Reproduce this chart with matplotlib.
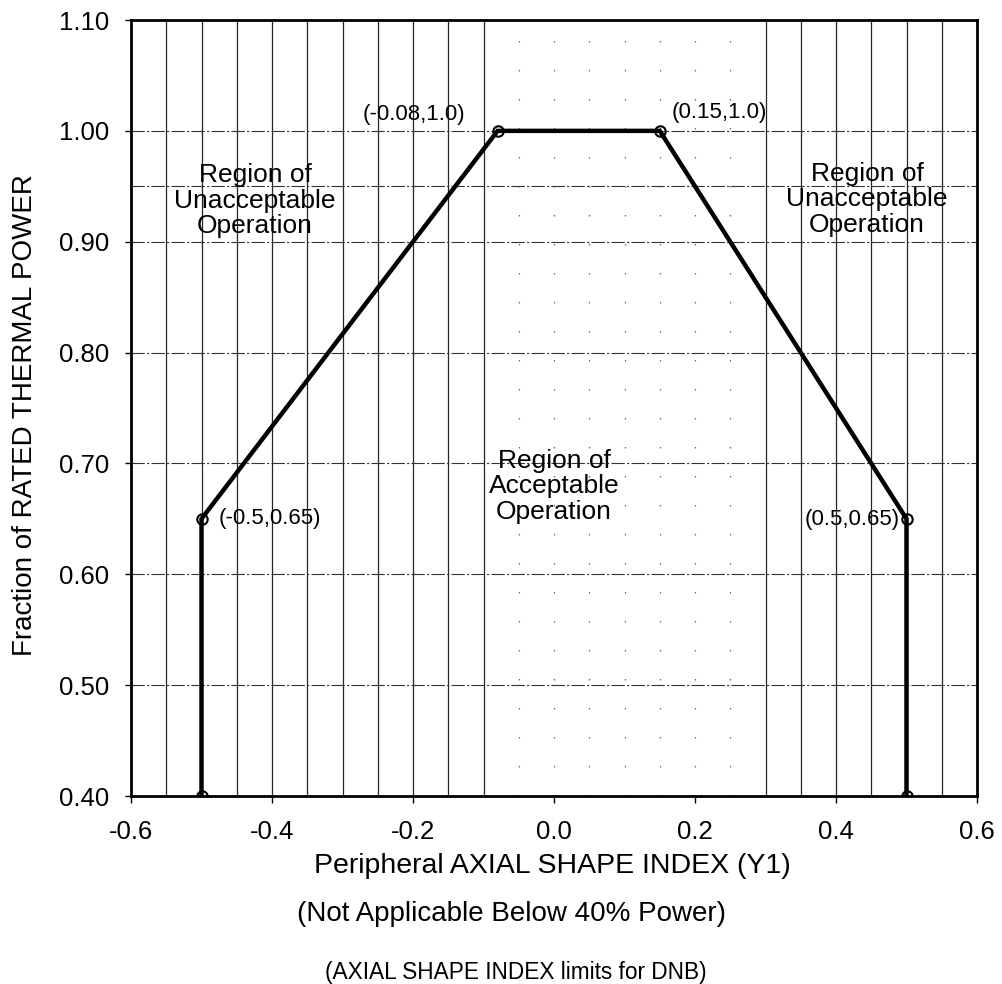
import matplotlib
matplotlib.use("Agg")
import matplotlib.pyplot as plt
import numpy as np

plt.rcParams['font.family'] = ['Liberation Sans', 'DejaVu Sans']

# Data
asi = [-0.5, -0.5, -0.08, 0.15, 0.5, 0.5]
power = [0.40, 0.65, 1.00, 1.00, 0.65, 0.40]
x_ticks = [-0.6, -0.4, -0.2, 0.0, 0.2, 0.4, 0.6]
x_ticklabels = ["-0.6", "-0.4", "-0.2", "0.0", "0.2", "0.4", "0.6"]
y_ticks = [0.40, 0.50, 0.60, 0.70, 0.80, 0.90, 1.00, 1.10]
y_ticklabels = ["0.40", "0.50", "0.60", "0.70", "0.80", "0.90", "1.00", "1.10"]
point_labels = ["(-0.5,0.65)", "(-0.08,1.0)", "(0.15,1.0)", "(0.5,0.65)"]

W, H = 1002, 984
fig = plt.figure(figsize=(W / 100, H / 100), dpi=100)
ax = fig.add_axes([131 / W, (H - 796) / H, 846 / W, 776 / H])
ax.set_xlim(-0.6, 0.6)
ax.set_ylim(0.40, 1.10)

# Gridlines
minor_x = np.round(np.arange(-0.55, 0.56, 0.05), 3)
for xv in minor_x:
    if -0.07 < xv < 0.27:
        ax.axvline(xv, color='0.4', lw=0.9, ls=(0, (1.2, 22)), zorder=1)
    else:
        ax.axvline(xv, color='0.15', lw=0.9, zorder=1)
for yv in [0.5, 0.6, 0.7, 0.8, 0.9, 0.95, 1.0]:
    ax.axhline(yv, color='0.2', lw=0.8, ls=(0, (12, 2, 2, 2)), zorder=1)

# Boundary line
ax.plot(asi, power, color='black', lw=3.2, zorder=3, solid_joinstyle='miter')
ax.plot(asi, power, ls='none', marker='o', ms=7.5, mfc='none', mec='black', mew=1.5, zorder=4)

# Point annotations
fs_ann = 16
ax.text(-0.476, 0.650, point_labels[0], fontsize=fs_ann, ha='left', va='center', zorder=5)
ax.text(-0.199, 1.015, point_labels[1], fontsize=fs_ann, ha='center', va='center', zorder=5)
ax.text(0.235, 1.017, point_labels[2], fontsize=fs_ann, ha='center', va='center', zorder=5)
ax.text(0.491, 0.649, point_labels[3], fontsize=fs_ann, ha='right', va='center', zorder=5)

# Region labels
fs_reg = 19
ax.text(-0.424, 0.937, "Region of\nUnacceptable\nOperation", fontsize=fs_reg, ha='center', va='center',
        linespacing=1.08, zorder=5)
ax.text(0.444, 0.9385, "Region of\nUnacceptable\nOperation", fontsize=fs_reg, ha='center', va='center',
        linespacing=1.08, zorder=5)
ax.text(0.0, 0.6796, "Region of\nAcceptable\nOperation", fontsize=fs_reg, ha='center', va='center',
        linespacing=1.08, zorder=5)

ax.set_xticks(x_ticks)
ax.set_xticklabels(x_ticklabels)
ax.set_yticks(y_ticks)
ax.set_yticklabels(y_ticklabels)
ax.tick_params(axis='x', labelsize=18.5, direction='out', length=5, width=1, pad=12)
ax.tick_params(axis='y', labelsize=18.5, direction='out', length=4, width=1, pad=12)

for s in ax.spines.values():
    s.set_linewidth(2)
    s.set_color('black')

fig.text(25 / W, 1 - 415 / H, "Fraction of RATED THERMAL POWER", fontsize=20, rotation=90,
         ha='center', va='center')
fig.text(552 / W, 1 - 866 / H, "Peripheral AXIAL SHAPE INDEX (Y1)", fontsize=20.5, ha='center', va='center')
fig.text(512 / W, 1 - 914 / H, "(Not Applicable Below 40% Power)", fontsize=20, ha='center', va='center')
fig.text(516 / W, 1 - 972 / H, "(AXIAL SHAPE INDEX limits for DNB)", fontsize=16.3, ha='center', va='center')

fig.savefig("out.png", dpi=100)
